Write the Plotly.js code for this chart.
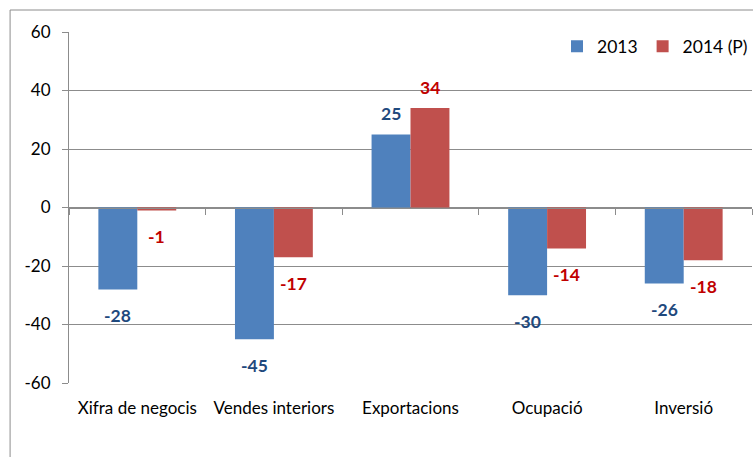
<!DOCTYPE html>
<html>
<head>
<meta charset="utf-8">
<script src="https://cdn.plot.ly/plotly-3.0.1.min.js"></script>
<style>html,body{margin:0;padding:0;background:#fff;}#chart{width:753px;height:457px;}</style>
</head>
<body>
<div id="chart"></div>
<script>
const categories = ["Xifra de negocis", "Vendes interiors", "Exportacions", "Ocupació", "Inversió"];
const series2013 = [-28, -45, 25, -30, -26];
const series2014 = [-1, -17, 34, -14, -18];
const seriesNames = ["2013", "2014 (P)"];
const yTicks = [-60, -40, -20, 0, 20, 40, 60];

const FONT = "Lato, 'Liberation Sans', sans-serif";
const barColors = ["#4F81BD", "#C0504D"];
const labelColors = ["#1F497D", "#C00000"];
const gridColor = "#8c8c8c";

const data = [
  {type: "bar", name: seriesNames[0], x: categories, y: series2013,
   marker: {color: barColors[0], line: {width: 0}}, hoverinfo: "skip", xaxis: "x", yaxis: "y"},
  {type: "bar", name: seriesNames[1], x: categories, y: series2014,
   marker: {color: barColors[1], line: {width: 0}}, hoverinfo: "skip", xaxis: "x", yaxis: "y"},
  {type: "scatter", mode: "markers", x: categories, y: categories.map(() => null),
   xaxis: "x2", yaxis: "y", showlegend: false, hoverinfo: "skip", marker: {opacity: 0}}
];

const annotations = [];
[series2013, series2014].forEach((vals, s) => {
  vals.forEach((v, j) => {
    annotations.push({
      x: categories[j], y: v, xref: "x", yref: "y",
      text: String(v), showarrow: false,
      xanchor: "center", yanchor: "middle",
      xshift: s === 0 ? -19.5 : 19.5,
      yshift: v >= 0 ? 21 : -26,
      font: {family: FONT, size: 17.5, color: labelColors[s], weight: 700}
    });
  });
});

const layout = {
  width: 753, height: 457,
  margin: {l: 69, r: 0, t: 32, b: 74, pad: 0},
  paper_bgcolor: "#ffffff", plot_bgcolor: "#ffffff",
  font: {family: FONT, size: 17, color: "#000"},
  barmode: "group", bargap: 0.43, bargroupgap: 0,
  showlegend: true,
  legend: {orientation: "h", x: 1.002, xanchor: "right", y: 1.01, yanchor: "top",
           font: {family: FONT, size: 17.5, color: "#000"}, bgcolor: "rgba(0,0,0,0)",
           itemwidth: 30, traceorder: "normal"},
  xaxis: {type: "category", anchor: "free", position: 0.5,
          showline: true, linecolor: gridColor, linewidth: 1,
          ticks: "outside", tickson: "boundaries", ticklen: 6, tickcolor: gridColor,
          showticklabels: false, showgrid: false, zeroline: false,
          range: [-0.5, 4.5], fixedrange: true},
  xaxis2: {type: "category", overlaying: "x", matches: "x", anchor: "y", side: "bottom",
           showline: false, ticks: "", showgrid: false, zeroline: false,
           showticklabels: true, ticklabelstandoff: 13,
           tickfont: {family: FONT, size: 17, color: "#000"}},
  yaxis: {range: [-60, 60], tickvals: yTicks, ticktext: yTicks.map(String),
          showgrid: true, gridcolor: gridColor, gridwidth: 1,
          zeroline: false, showline: true, linecolor: gridColor, linewidth: 1,
          ticks: "outside", ticklen: 6, tickcolor: gridColor,
          tickfont: {family: FONT, size: 17, color: "#000"}, ticklabelstandoff: 8,
          fixedrange: true},
  shapes: [{type: "rect", xref: "paper", yref: "paper",
            x0: -59/684, x1: 1.2, y0: -0.4, y1: 373/351,
            line: {color: gridColor, width: 1}, fillcolor: "rgba(0,0,0,0)", layer: "below"}],
  annotations: annotations
};

Plotly.newPlot("chart", data, layout, {staticPlot: true, displayModeBar: false});
</script>
</body>
</html>
